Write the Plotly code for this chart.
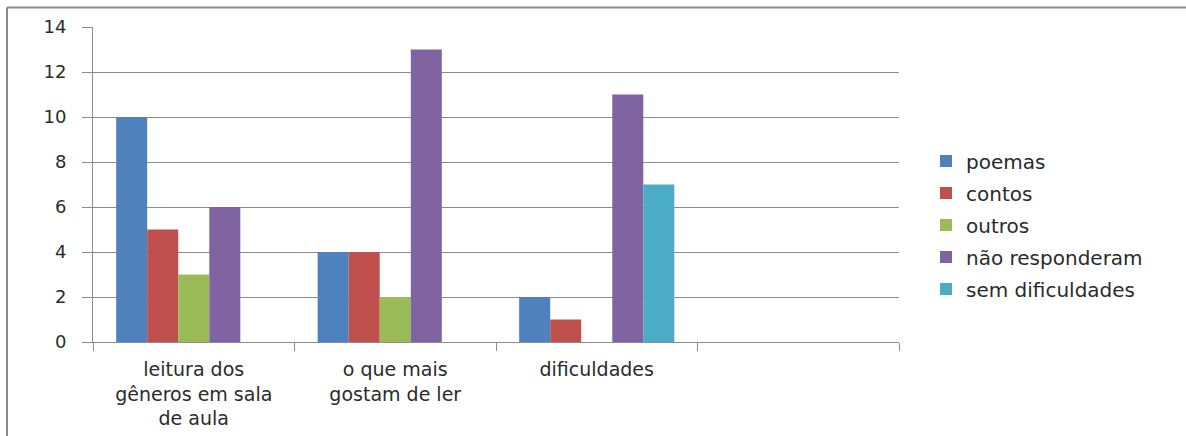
import plotly.graph_objects as go

categories = ["leitura dos<br>gêneros em sala<br>de aula", "o que mais<br>gostam de ler", "dificuldades", " "]
series_names = ["poemas", "contos", "outros", "não responderam", "sem dificuldades"]
poemas = [10, 4, 2, None]
contos = [5, 4, 1, None]
outros = [3, 2, None, None]
nao_responderam = [6, 13, 11, None]
sem_dificuldades = [None, None, 7, None]
y_ticks = [0, 2, 4, 6, 8, 10, 12, 14]

values = [poemas, contos, outros, nao_responderam, sem_dificuldades]
colors = ["#4F81BD", "#C0504D", "#9BBB59", "#8064A2", "#4BACC6"]

W, H = 1186, 436
L, R, T, B = 93, 899, 27, 342
pw, ph = R - L, B - T

fig = go.Figure()
for name, vals, col in zip(series_names, values, colors):
    fig.add_trace(go.Bar(x=categories, y=vals, name=name, marker_color=col,
                         marker_line_width=0, legendgroup=name))

fam = "'DejaVu Sans', Verdana, sans-serif"
font = dict(family=fam, size=18, color="#2b2b2b")

fig.update_layout(
    width=W, height=H,
    margin=dict(l=L, r=W - R, t=T, b=H - B, pad=0, autoexpand=False),
    paper_bgcolor="white", plot_bgcolor="white",
    barmode="group", bargap=0.23, bargroupgap=0,
    font=font,
    showlegend=True,
    legend=dict(x=(926 - L) / pw, xanchor="left", y=(B - 225) / ph, yanchor="middle",
                font=dict(size=20, family=fam, color="#2b2b2b"),
                tracegroupgap=3, itemwidth=30, bgcolor="rgba(0,0,0,0)"),
    xaxis=dict(type="category", categoryorder="array", categoryarray=categories,
               range=[-0.5, 3.5], showgrid=False, showline=True, linecolor="#8c8c8c",
               linewidth=1, ticks="outside", tickson="boundaries", ticklen=8,
               tickcolor="#8c8c8c", tickfont=dict(size=19), ticklabelstandoff=10,
               automargin=False, fixedrange=True),
    yaxis=dict(range=[0, 14], tickvals=y_ticks, showgrid=True, gridcolor="#8c8c8c",
               gridwidth=1, showline=True, linecolor="#8c8c8c", linewidth=1,
               ticks="outside", ticklen=10, tickcolor="#8c8c8c", tickfont=dict(size=18),
               ticklabelstandoff=12, zeroline=False, automargin=False, fixedrange=True),
)

# outer chart border (left and top edges visible)
bx = (7 - L) / pw
by = 1 + (T - 7.5) / ph
fig.add_shape(type="line", xref="paper", yref="paper", x0=bx, x1=bx, y0=by, y1=-(H - B) / ph - 0.01,
              line=dict(color="#8a8a8a", width=2))
fig.add_shape(type="line", xref="paper", yref="paper", x0=bx, x1=(W - L) / pw + 0.01, y0=by, y1=by,
              line=dict(color="#8a8a8a", width=2))

fig.write_html("out.html")
